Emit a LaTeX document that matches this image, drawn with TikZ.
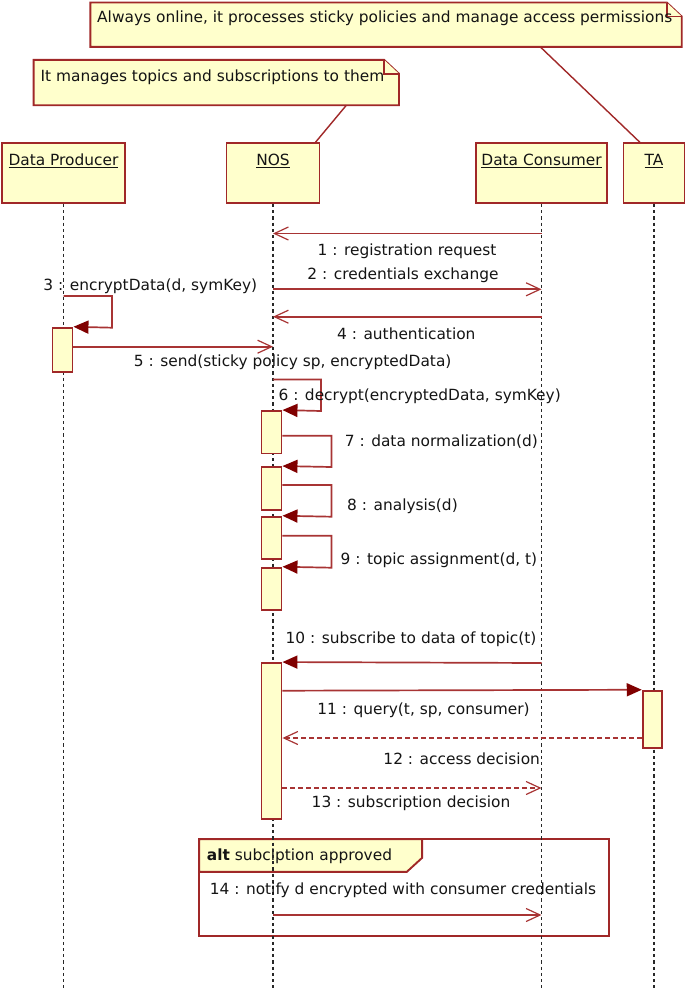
\documentclass[tikz,border=0pt]{standalone}
\usepackage{fontspec}
\setmainfont{DejaVu Sans}
\usetikzlibrary{arrows.meta,calc}
\definecolor{umlred}{RGB}{160,40,40}
\definecolor{msgred}{RGB}{168,52,52}
\definecolor{headred}{RGB}{128,0,0}
\definecolor{umlyellow}{RGB}{255,255,204}
\definecolor{txt}{RGB}{20,20,20}
\definecolor{lifegray}{RGB}{40,40,40}
\begin{document}
\begin{tikzpicture}[x=1pt,y=-1pt,
 every node/.style={font=\fontsize{15.4}{18}\selectfont, text=txt},
 lbl/.style={inner sep=0pt},
 shell/.style={inner sep=0pt},
 actor/.style={draw=umlred, line width=1.9pt, fill=umlyellow, inner sep=0pt, minimum height=59.7pt},
 act/.style={draw=umlred, line width=1.9pt, fill=umlyellow, minimum width=20pt, inner sep=0pt},
 notebox/.style={draw=umlred, line width=1.9pt, fill=umlyellow},
 framebox/.style={draw=umlred, line width=1.9pt},
 lifeline/.style={lifegray, line width=1.7pt, dash pattern=on 3.2pt off 3pt},
 msgline/.style={msgred, line width=1.7pt},
 syncmsg/.style={msgline, -{Triangle[length=15pt,width=13pt,color=headred]}},
 asyncmsg/.style={msgline, -{Straight Barb[length=14pt,width=13pt,line width=1.2pt]}},
 replymsg/.style={asyncmsg, dash pattern=on 5pt off 3pt},
 noteline/.style={umlred, line width=1.4pt},
]
\useasboundingbox (0,0) rectangle (685,988);

% notes
\node[shell, minimum width=591pt, minimum height=44pt] (n1) at (386,24.7) {};
\draw[notebox] (n1.north west) -- ($(n1.north east)+(-15,0)$) -- ($(n1.north east)+(0,14)$) -- (n1.south east) -- (n1.south west) -- cycle;
\draw[notebox] ($(n1.north east)+(-15,0)$) -- ($(n1.north east)+(-15,14)$) -- ($(n1.north east)+(0,14)$);
\node[lbl, anchor=west] (n1t) at (97,18.5) {Always online, it processes sticky policies and manage access permissions};

\node[shell, minimum width=365pt, minimum height=45pt] (n2) at (216.3,82.5) {};
\draw[notebox] (n2.north west) -- ($(n2.north east)+(-15,0)$) -- ($(n2.north east)+(0,14)$) -- (n2.south east) -- (n2.south west) -- cycle;
\draw[notebox] ($(n2.north east)+(-15,0)$) -- ($(n2.north east)+(-15,14)$) -- ($(n2.north east)+(0,14)$);
\node[lbl, anchor=west] (n2t) at (40.5,77) {It manages topics and subscriptions to them};

% actors
\node[actor, minimum width=123pt] (dp) at (63.5,173.2) {};
\node[actor, minimum width=93pt] (nos) at (273,173.2) {};
\node[actor, minimum width=131pt] (dc) at (541.5,173.2) {};
\node[actor, minimum width=61pt] (ta) at (654,173.2) {};
\node[lbl] (dpl) at (63.5,161) {\underline{Data Producer}};
\node[lbl] (nosl) at (273,161) {\underline{NOS}};
\node[lbl] (dcl) at (541.5,161) {\underline{Data Consumer}};
\node[lbl] (tal) at (654,161) {\underline{TA}};

% note connectors
\draw[noteline] ($(n1.south west)+(450,0)$) -- ($(ta.north)+(-14,0)$);
\draw[noteline] ($(n2.south west)+(312.8,0)$) -- ($(nos.north)+(42.4,0)$);

% alt frame
\node[shell, minimum width=409.7pt, minimum height=96.4pt] (alt) at (404.2,887.5) {};
\draw[framebox] (alt.north west) rectangle (alt.south east);
\draw[notebox] (alt.north west) -- ++(223,0) -- ++(0,18.7) -- ++(-15.3,14) -- ++(-207.7,0) -- cycle;
\node[lbl, anchor=west] (altl) at (206.7,856) {\textbf{alt} subciption approved};

% lifelines
\coordinate (dpe) at (63.5,988);
\coordinate (nose) at (273,988);
\coordinate (dce) at (541.5,988);
\coordinate (tae) at (654,988);
\draw[lifeline] (dp.south) -- (dpe);
\draw[lifeline] (nos.south) -- (nose);
\draw[lifeline] (dc.south) -- (dce);
\draw[lifeline] (ta.south) -- (tae);

% activations
\node[act, minimum height=44pt] (adp) at (62.5,349.7) {};
\node[act, minimum height=42.5pt] (a1) at (271.5,432.25) {};
\node[act, minimum height=43pt] (a2) at (271.5,488.5) {};
\node[act, minimum height=42.3pt] (a3) at (271.5,537.85) {};
\node[act, minimum height=42.3pt] (a4) at (271.5,588.85) {};
\node[act, minimum height=156pt] (a5) at (271.5,741) {};
\node[act, minimum width=19pt, minimum height=57.3pt] (ata) at (652.2,719.35) {};

% messages
\draw[asyncmsg] (dc.south |- 0,233.5) -- (nos.south |- 0,233.5);
\draw[asyncmsg] (nos.south |- 0,289.3) -- (dc.south |- 0,289.3);
\draw[syncmsg] (dp.south |- 0,296) -- ++(48.5,0) -- ++(0,31.7) -- (adp.north east);
\draw[asyncmsg] (dc.south |- 0,316.7) -- (nos.south |- 0,316.7);
\draw[asyncmsg] (adp.east |- 0,346.7) -- (nos.south |- 0,346.7);
\draw[syncmsg] (nos.south |- 0,379.5) -- ++(48,0) -- ++(0,31.5) -- (a1.north east);
\draw[syncmsg] (a1.east |- 0,435.7) -- ++(49,0) -- ++(0,31.3) -- (a2.north east);
\draw[syncmsg] (a2.east |- 0,485) -- ++(49,0) -- ++(0,31.7) -- (a3.north east);
\draw[syncmsg] (a3.east |- 0,535.7) -- ++(49,0) -- ++(0,32) -- (a4.north east);
\draw[syncmsg] (dc.south |- 0,663) -- (a5.north east);
\draw[syncmsg] (a5.east |- 0,690.7) -- (ata.north west);
\draw[replymsg] (ata.west |- 0,738) -- (a5.east |- 0,738);
\draw[replymsg] (a5.east |- 0,788) -- (dc.south |- 0,788);
\draw[asyncmsg] (nos.south |- 0,915) -- (dc.south |- 0,915);

% message labels
\node[lbl] (m1) at (407,251.7) {1 : registration request};
\node[lbl] (m2) at (403,275) {2 : credentials exchange};
\node[lbl] (m3) at (150.3,286) {3 : encryptData(d, symKey)};
\node[lbl] (m4) at (406.3,334) {4 : authentication};
\node[lbl] (m5) at (292.7,362.3) {5 : send(sticky policy sp, encryptedData)};
\node[lbl] (m6) at (419.7,396.7) {6 : decrypt(encryptedData, symKey)};
\node[lbl] (m7) at (441.4,441.7) {7 : data normalization(d)};
\node[lbl] (m8) at (402.5,506.7) {8 : analysis(d)};
\node[lbl] (m9) at (438.9,560) {9 : topic assignment(d, t)};
\node[lbl] (m10) at (411,639) {10 : subscribe to data of topic(t)};
\node[lbl] (m11) at (423.5,710) {11 : query(t, sp, consumer)};
\node[lbl] (m12) at (461.7,759) {12 : access decision};
\node[lbl] (m13) at (411,803) {13 : subscription decision};
\node[lbl] (m14) at (403,890) {14 : notify d encrypted with consumer credentials};
\end{tikzpicture}
\end{document}
